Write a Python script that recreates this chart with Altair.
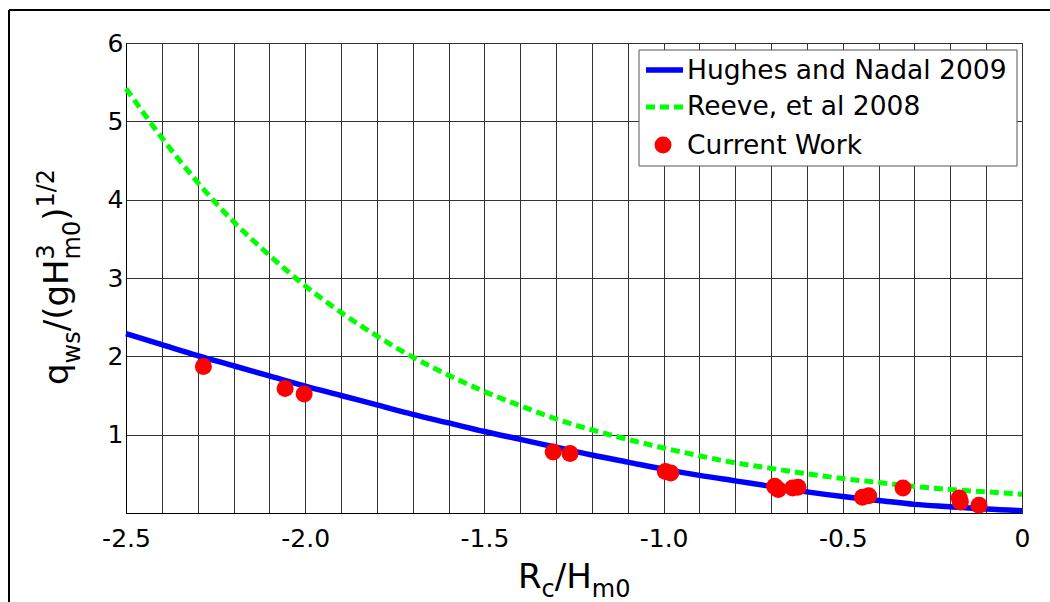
import altair as alt
import pandas as pd

FONT = "DejaVu Sans"

# Relative freeboard grid shared by both empirical curves
rc_curve = [-2.5, -2.4, -2.3, -2.2, -2.1, -2.0, -1.9, -1.8, -1.7, -1.6, -1.5, -1.4, -1.3,
            -1.2, -1.1, -1.0, -0.9, -0.8, -0.7, -0.6, -0.5, -0.4, -0.3, -0.2, -0.1, 0.0]
hughes_nadal = [2.29, 2.15, 2.01, 1.88, 1.75, 1.62, 1.50, 1.38, 1.26, 1.15, 1.04, 0.94, 0.84,
                0.74, 0.65, 0.56, 0.48, 0.41, 0.34, 0.27, 0.21, 0.16, 0.11, 0.08, 0.05, 0.03]
reeve = [5.42, 4.79, 4.22, 3.72, 3.29, 2.90, 2.56, 2.26, 1.99, 1.76, 1.55, 1.37, 1.20,
         1.06, 0.94, 0.83, 0.73, 0.64, 0.57, 0.50, 0.44, 0.39, 0.34, 0.30, 0.27, 0.24]

# Measured overtopping rates
rc_meas = [-2.284, -2.056, -2.003, -1.308, -1.261, -0.995, -0.980, -0.690, -0.680, -0.640,
           -0.625, -0.445, -0.428, -0.332, -0.175, -0.172, -0.120]
q_meas = [1.87, 1.59, 1.52, 0.78, 0.76, 0.53, 0.51, 0.34, 0.30, 0.32,
          0.33, 0.20, 0.22, 0.32, 0.19, 0.14, 0.10]

x_grid = [round(-2.5 + 0.1 * i, 1) for i in range(26)]
y_grid = [0, 1, 2, 3, 4, 5, 6]

curves = pd.DataFrame({"rc": rc_curve, "hn": hughes_nadal, "reeve": reeve})
meas = pd.DataFrame({"rc": rc_meas, "q": q_meas})
one = pd.DataFrame({"k": [0]})

x_scale = alt.Scale(domain=[-2.5, 0], nice=False, zero=False)
y_scale = alt.Scale(domain=[0, 6], nice=False, zero=False)

GRID = "#333"

x_axis = alt.Axis(
    values=x_grid, tickCount=100, grid=True, gridColor=GRID, gridWidth=1, ticks=False, tickSize=0,
    domain=True, domainColor="black", labelFont=FONT, labelFontSize=25, labelColor="black",
    labelPadding=13, labelOverlap=False, labelFlush=False, title=None,
    labelExpr="abs(datum.value*2 - round(datum.value*2)) < 0.001 ? "
              "(datum.value == 0 ? '0' : '-' + format(-datum.value, '.1f')) : ''",
)
y_axis = alt.Axis(
    values=y_grid, tickCount=100, grid=True, gridColor=GRID, gridWidth=1, ticks=False, tickSize=0,
    domain=True, domainColor="black", labelFont=FONT, labelFontSize=25, labelColor="black",
    labelPadding=3, labelOverlap=False, labelFlush=False, title=None,
    labelExpr="datum.value == 0 ? '' : format(datum.value, 'd')",
)

reeve_line = alt.Chart(curves).mark_line(
    color="#00ff00", strokeWidth=5, strokeDash=[9, 5], interpolate="monotone"
).encode(
    x=alt.X("rc:Q", scale=x_scale, axis=x_axis),
    y=alt.Y("reeve:Q", scale=y_scale, axis=y_axis),
)

hn_line = alt.Chart(curves).mark_line(
    color="#0000ff", strokeWidth=5.5, interpolate="monotone"
).encode(
    x=alt.X("rc:Q", scale=x_scale),
    y=alt.Y("hn:Q", scale=y_scale),
)

points = alt.Chart(meas).mark_circle(color="#ff0000", opacity=1, size=290).encode(
    x=alt.X("rc:Q", scale=x_scale),
    y=alt.Y("q:Q", scale=y_scale),
)


def piece(text, x, y, size, angle=0, baseline="alphabetic", align="left"):
    return alt.Chart(pd.DataFrame({"t": [text]})).mark_text(
        font=FONT, fontSize=size, align=align, baseline=baseline, angle=angle, color="black"
    ).encode(text="t:N", x=alt.value(x), y=alt.value(y))


# Axis titles with sub/superscripts, assembled piece by piece
MAIN, SUB = 34, 24
x_title = [
    piece("R", 392, 545, MAIN),
    piece("c", 415.6, 554, SUB),
    piece("/H", 428.8, 545, MAIN),
    piece("m0", 465.8, 554, SUB),
]
y_title = [
    piece("q", -58, 342, MAIN, angle=270),
    piece("ws", -46, 320.4, SUB, angle=270),
    piece("/(gH", -58, 288.3, MAIN, angle=270),
    piece("3", -72, 216.4, SUB, angle=270),
    piece("m0", -46, 216.4, SUB, angle=270),
    piece(")", -58, 177.8, MAIN, angle=270),
    piece("1/2", -72, 164.5, SUB, angle=270),
]

# Legend box
legend_box = alt.Chart(one).mark_rect(fill="white", stroke="#555", strokeWidth=1).encode(
    x=alt.value(513), x2=alt.value(891), y=alt.value(7), y2=alt.value(123)
)
leg_blue = alt.Chart(one).mark_rule(color="#0000ff", strokeWidth=5.5).encode(
    x=alt.value(520), x2=alt.value(557), y=alt.value(27)
)
leg_green = alt.Chart(one).mark_rule(color="#00ff00", strokeWidth=5, strokeDash=[9, 5]).encode(
    x=alt.value(520), x2=alt.value(557), y=alt.value(64)
)
leg_red = alt.Chart(one).mark_circle(color="#ff0000", opacity=1, size=290).encode(
    x=alt.value(537), y=alt.value(102)
)
leg_text = [
    piece("Hughes and Nadal 2009", 561, 28, 26.5, baseline="middle"),
    piece("Reeve, et al 2008", 561, 64, 26.5, baseline="middle"),
    piece("Current Work", 561, 103, 26.5, baseline="middle"),
]

# Figure frame
frame_left = alt.Chart(one).mark_rule(color="black", strokeWidth=2).encode(
    x=alt.value(-117), y=alt.value(-33), y2=alt.value(600)
)
frame_top = alt.Chart(one).mark_rule(color="black", strokeWidth=2).encode(
    x=alt.value(-117), x2=alt.value(1000), y=alt.value(-33)
)

chart = alt.layer(
    reeve_line, hn_line, points,
    legend_box, leg_blue, leg_green, leg_red, *leg_text,
    *x_title, *y_title, frame_left, frame_top,
).properties(
    width=896,
    height=470,
    autosize=alt.AutoSizeParams(type="none"),
    padding={"left": 126, "top": 43, "right": 28, "bottom": 89},
    background="white",
).configure_view(stroke="black", strokeWidth=1)

chart.save("out.html", embed_options={"renderer": "svg", "actions": False})
